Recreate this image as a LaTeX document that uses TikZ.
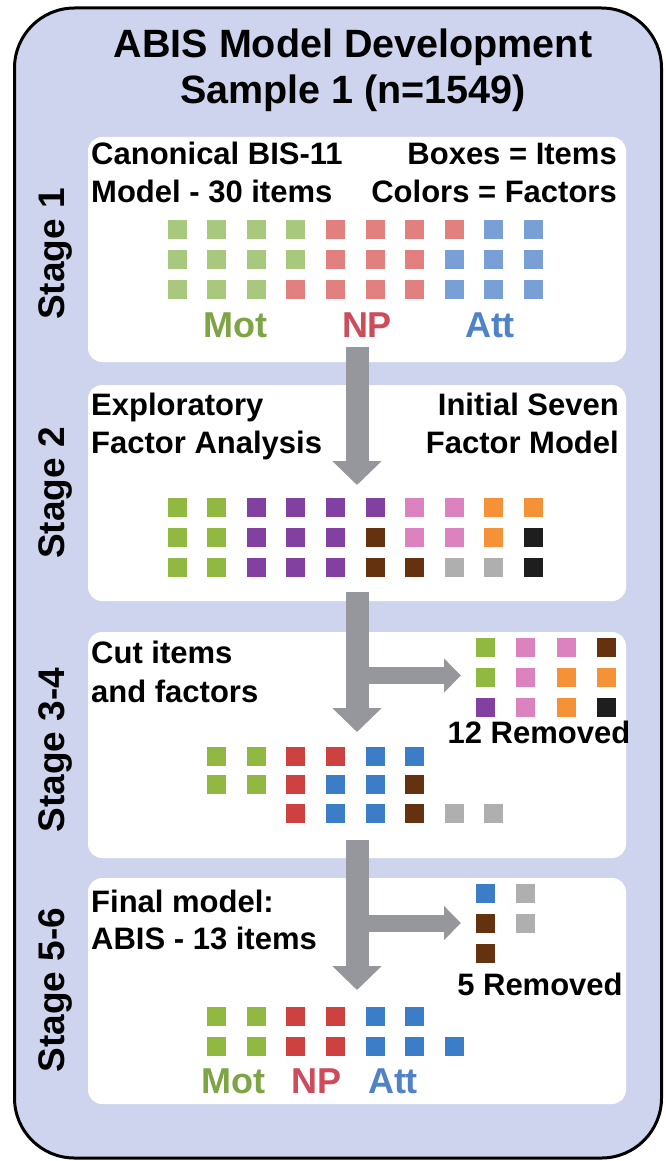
\documentclass[tikz,border=0pt]{standalone}
\usepackage{fontspec}
\setmainfont{Liberation Sans}
\usetikzlibrary{arrows.meta}
\definecolor{bgblue}{RGB}{206,212,238}
\definecolor{arrgray}{RGB}{150,151,156}
\definecolor{lgreen}{RGB}{168,200,125}
\definecolor{lred}{RGB}{226,128,128}
\definecolor{lblue}{RGB}{120,160,215}
\definecolor{motc}{RGB}{125,165,70}
\definecolor{npc}{RGB}{205,75,90}
\definecolor{attc}{RGB}{80,130,200}
\definecolor{cgreen}{RGB}{145,185,65}
\definecolor{cpurple}{RGB}{130,65,160}
\definecolor{cpink}{RGB}{220,130,190}
\definecolor{corange}{RGB}{245,145,55}
\definecolor{cbrown}{RGB}{100,50,15}
\definecolor{cblack}{RGB}{30,30,30}
\definecolor{cgray}{RGB}{175,175,175}
\definecolor{cred}{RGB}{205,65,65}
\definecolor{cblue}{RGB}{60,125,200}
\newcommand\sqx[3]{\fill[#3] ({177+39.6*#1-9.5},{#2-9.5}) rectangle ++(19,19);}
\newcommand\rsq[3]{\fill[#3] ({#1-9.5},{#2-9.5}) rectangle ++(19,19);}
\begin{document}
\begin{tikzpicture}[x=1pt,y=-1pt,
  panel/.style={fill=white,rounded corners=14pt},
  ptext/.style={inner sep=0pt,font=\fontsize{31}{36}\selectfont\bfseries},
  ttext/.style={inner sep=0pt,font=\fontsize{39.5}{46}\selectfont\bfseries},
  stext/.style={inner sep=0pt,rotate=90,anchor=base,font=\fontsize{37}{44}\selectfont\bfseries},
  ltext/.style={inner sep=0pt,anchor=base,font=\fontsize{36}{42}\selectfont\bfseries},
  vbig/.style={draw=arrgray,line width=23pt,-{Triangle[width=48pt,length=24pt]}},
  hbig/.style={draw=arrgray,line width=17pt,-{Triangle[width=33pt,length=17pt]}}]
\useasboundingbox (0,0) rectangle (665,1161);
\draw[fill=bgblue,line width=3pt,rounded corners=60pt] (14.5,8) rectangle (661.5,1158);
% panels
\fill[panel] (88,137) rectangle (626,362);
\fill[panel] (88,385) rectangle (626,601);
\fill[panel] (88,632) rectangle (626,858);
\fill[panel] (88,878) rectangle (626,1104);
% title
\node[ttext,anchor=base] (t1) at (353,58) {ABIS Model Development};
\node[ttext,anchor=base] (t2) at (353,104) {Sample 1 (n=1549)};
% stage labels
\node[stext] (s1) at (64,254) {Stage 1};
\node[stext] (s2) at (64,493) {Stage 2};
\node[stext] (s3) at (64,750) {Stage 3-4};
\node[stext] (s4) at (64,990) {Stage 5-6};
% panel texts
\node[ptext,anchor=base west] (p1a) at (91,165) {Canonical BIS-11};
\node[ptext,anchor=base west] (p1b) at (91,203) {Model - 30 items};
\node[ptext,anchor=base east] (p1c) at (617,165) {Boxes = Items};
\node[ptext,anchor=base east] (p1d) at (617,203) {Colors = Factors};
\node[ptext,anchor=base west] (p2a) at (91,415) {Exploratory};
\node[ptext,anchor=base west] (p2b) at (91,453) {Factor Analysis};
\node[ptext,anchor=base east] (p2c) at (619,415) {Initial Seven};
\node[ptext,anchor=base east] (p2d) at (619,453) {Factor Model};
\node[ptext,anchor=base west] (p3a) at (91,663) {Cut items};
\node[ptext,anchor=base west] (p3b) at (91,702) {and factors};
\node[ptext,anchor=base west] (p4a) at (91,912) {Final model:};
\node[ptext,anchor=base west] (p4b) at (91,949) {ABIS - 13 items};
\node[ptext,anchor=base] (r12) at (539,743) {12 Removed};
\node[ptext,anchor=base] (r5) at (540,995) {5 Removed};
% labels
\node[ltext,text=motc] (m1) at (235,337) {Mot};
\node[ltext,text=npc] (n1) at (367,337) {NP};
\node[ltext,text=attc] (a1) at (490,337) {Att};
\node[ltext,text=motc] (m4) at (233,1093) {Mot};
\node[ltext,text=npc] (n4) at (317,1093) {NP};
\node[ltext,text=attc] (a4) at (393,1093) {Att};
% arrows
\coordinate (v1s) at (357,347); \coordinate (v1e) at (357,485);
\coordinate (v2s) at (357,592); \coordinate (v2e) at (357,732);
\coordinate (v3s) at (357,840); \coordinate (v3e) at (357,990);
\coordinate (h1s) at (357,675.5); \coordinate (h1e) at (461,675.5);
\coordinate (h2s) at (357,923); \coordinate (h2e) at (461,923);
\draw[hbig] (h1s) -- (h1e);
\draw[hbig] (h2s) -- (h2e);
\draw[vbig] (v1s) -- (v1e);
\draw[vbig] (v2s) -- (v2e);
\draw[vbig] (v3s) -- (v3e);
% stage 1 grid
\foreach \c/\col in {0/lgreen,1/lgreen,2/lgreen,3/lgreen,4/lred,5/lred,6/lred,7/lred,8/lblue,9/lblue}{\sqx{\c}{229}{\col}}
\foreach \c/\col in {0/lgreen,1/lgreen,2/lgreen,3/lgreen,4/lred,5/lred,6/lred,7/lblue,8/lblue,9/lblue}{\sqx{\c}{259}{\col}}
\foreach \c/\col in {0/lgreen,1/lgreen,2/lgreen,3/lred,4/lred,5/lred,6/lred,7/lblue,8/lblue,9/lblue}{\sqx{\c}{289}{\col}}
% stage 2 grid
\foreach \c/\col in {0/cgreen,1/cgreen,2/cpurple,3/cpurple,4/cpurple,5/cpurple,6/cpink,7/cpink,8/corange,9/corange}{\sqx{\c}{507}{\col}}
\foreach \c/\col in {0/cgreen,1/cgreen,2/cpurple,3/cpurple,4/cpurple,5/cbrown,6/cpink,7/cpink,8/corange,9/cblack}{\sqx{\c}{537}{\col}}
\foreach \c/\col in {0/cgreen,1/cgreen,2/cpurple,3/cpurple,4/cpurple,5/cbrown,6/cbrown,7/cgray,8/cgray,9/cblack}{\sqx{\c}{567}{\col}}
% stage 3-4 grid
\foreach \c/\col in {1/cgreen,2/cgreen,3/cred,4/cred,5/cblue,6/cblue}{\sqx{\c}{756}{\col}}
\foreach \c/\col in {1/cgreen,2/cgreen,3/cred,4/cblue,5/cblue,6/cbrown}{\sqx{\c}{784}{\col}}
\foreach \c/\col in {3/cred,4/cblue,5/cblue,6/cbrown,7/cgray,8/cgray}{\sqx{\c}{813}{\col}}
% stage 3-4 removed
\foreach \x/\col in {485/cgreen,525.5/cpink,566/cpink,606/cbrown}{\rsq{\x}{647}{\col}}
\foreach \x/\col in {485/cgreen,525.5/cpink,566/corange,606/corange}{\rsq{\x}{677}{\col}}
\foreach \x/\col in {485/cpurple,525.5/cpink,566/corange,606/cblack}{\rsq{\x}{707}{\col}}
% stage 5-6 grid
\foreach \c/\col in {1/cgreen,2/cgreen,3/cred,4/cred,5/cblue,6/cblue}{\sqx{\c}{1016}{\col}}
\foreach \c/\col in {1/cgreen,2/cgreen,3/cred,4/cred,5/cblue,6/cblue,7/cblue}{\sqx{\c}{1046}{\col}}
% stage 5-6 removed
\rsq{485}{893}{cblue}\rsq{525.5}{893}{cgray}
\rsq{485}{923}{cbrown}\rsq{525.5}{923}{cgray}
\rsq{485}{953}{cbrown}
\end{tikzpicture}
\end{document}
